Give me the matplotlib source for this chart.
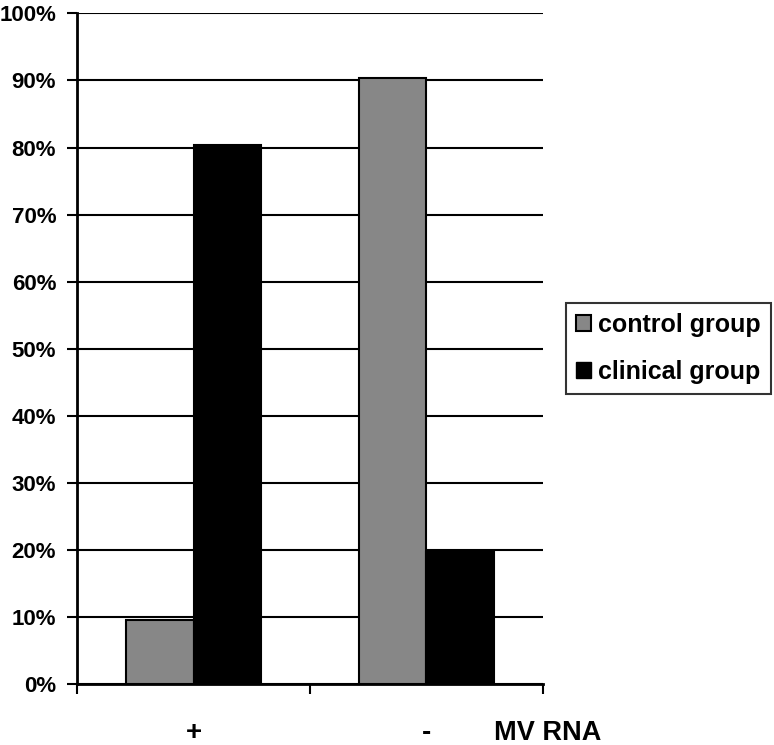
import numpy as np
import matplotlib.pyplot as plt
from matplotlib.patches import Patch

categories = ['+', '-']
control = [9.6, 90.4]
clinical = [80.4, 19.6]
series_names = ['control group', 'clinical group']
yticks = list(range(0, 101, 10))

plt.rcParams['font.family'] = ['Liberation Sans', 'DejaVu Sans']
plt.rcParams['font.weight'] = 'bold'

fig = plt.figure(figsize=(7.74, 7.45), dpi=100)
ax = fig.add_axes([0.0995, 0.082, 0.602, 0.9])

x = np.arange(len(categories))
w = 0.29
ax.bar(x - w/2, control, w, color='#878787', edgecolor='black', linewidth=1.5, zorder=3)
ax.bar(x + w/2, clinical, w, color='black', edgecolor='black', linewidth=1.5, zorder=3)

ax.set_xlim(-0.5, 1.5)
ax.set_ylim(0, 100)
ax.set_yticks(yticks)
ax.set_yticklabels([f'{v}%' for v in yticks], fontsize=16, fontweight='bold')
ax.yaxis.grid(True, color='black', linewidth=1.5, zorder=0)
ax.set_axisbelow(True)

ax.set_xticks([-0.5, 0.5, 1.5])
ax.set_xticklabels([])
ax.tick_params(axis='x', length=7, width=1.5, direction='out')
ax.tick_params(axis='y', length=7, width=1.5, direction='out', pad=8)

# category labels placed under the bar groups
for xi, lab in zip(x, categories):
    ax.text(xi, -7.3, lab, fontsize=20, fontweight='bold',
            ha='center', va='center', clip_on=False)
ax.text(1.52, -7.3, 'MV RNA', fontsize=19.5,
        fontweight='bold', ha='center', va='center', clip_on=False)

for s in ['top', 'right']:
    ax.spines[s].set_visible(False)
for s in ['left', 'bottom']:
    ax.spines[s].set_linewidth(2)

handles = [Patch(facecolor='#878787', edgecolor='black', linewidth=1.5),
           Patch(facecolor='black', edgecolor='black')]
leg = fig.legend(handles, series_names, loc='upper left',
                 bbox_to_anchor=(0.731, 0.593),
                 prop={'weight': 'bold', 'size': 18},
                 frameon=True, fancybox=False, edgecolor='black',
                 handlelength=0.6, handleheight=0.6, handletextpad=0.3,
                 borderpad=0.4, labelspacing=0.9, borderaxespad=0)
leg.get_frame().set_linewidth(1.5)

fig.savefig('out.png', dpi=100, facecolor='white')
